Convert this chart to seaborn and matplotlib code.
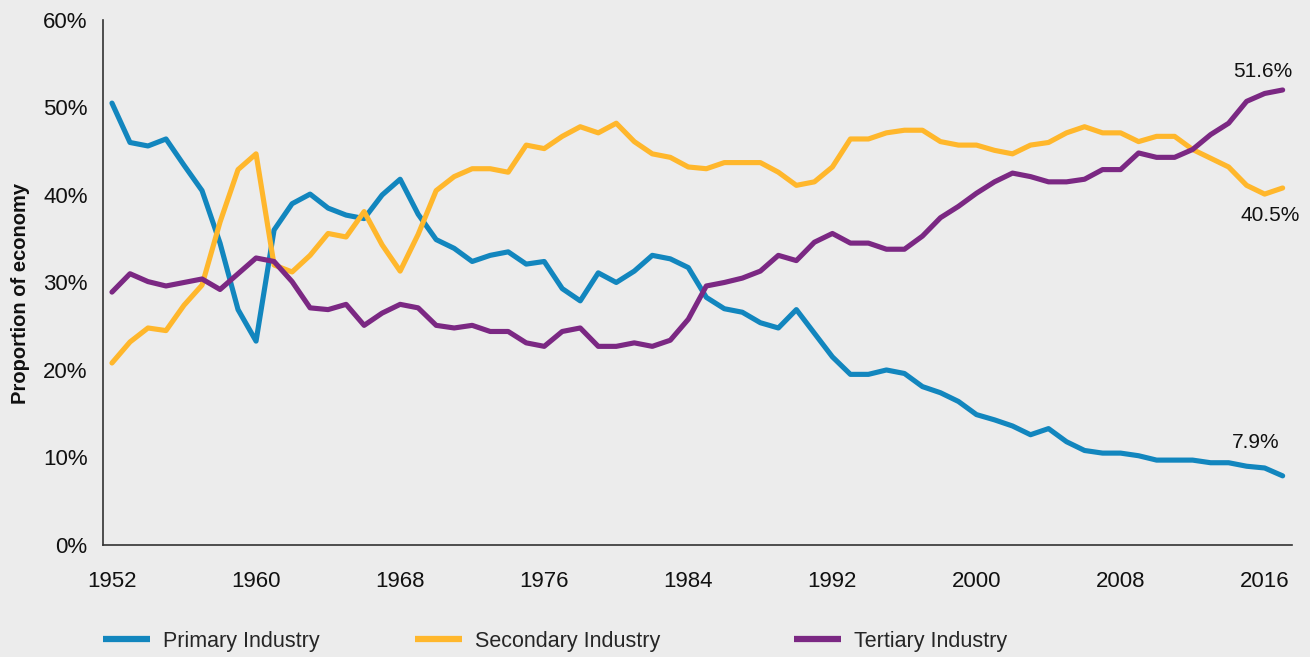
import numpy as np
import pandas as pd
import matplotlib
matplotlib.use("Agg")
import matplotlib.pyplot as plt
import seaborn as sns
from matplotlib.lines import Line2D
from matplotlib.ticker import FuncFormatter

years = list(range(1952, 2018))

primary = [50.5, 46.0, 45.6, 46.4, 43.4, 40.5, 34.5, 26.9, 23.3, 36.0,
           39.0, 40.1, 38.5, 37.7, 37.3, 40.0, 41.8, 37.8, 34.9, 33.9,
           32.4, 33.1, 33.5, 32.1, 32.4, 29.3, 27.9, 31.1, 30.0, 31.3,
           33.1, 32.7, 31.7, 28.3, 27.0, 26.6, 25.4, 24.8, 26.9, 24.2,
           21.5, 19.5, 19.5, 20.0, 19.6, 18.1, 17.4, 16.4, 14.9, 14.3,
           13.6, 12.6, 13.3, 11.8, 10.8, 10.5, 10.5, 10.2, 9.7, 9.7,
           9.7, 9.4, 9.4, 9.0, 8.8, 7.9]

secondary = [20.8, 23.2, 24.8, 24.5, 27.4, 29.7, 36.9, 42.9, 44.7, 32.0,
             31.2, 33.1, 35.6, 35.2, 38.1, 34.3, 31.3, 35.5, 40.5, 42.1,
             43.0, 43.0, 42.6, 45.7, 45.3, 46.7, 47.8, 47.1, 48.2, 46.1,
             44.7, 44.3, 43.2, 43.0, 43.7, 43.7, 43.7, 42.6, 41.1, 41.5,
             43.2, 46.4, 46.4, 47.1, 47.4, 47.4, 46.1, 45.7, 45.7, 45.1,
             44.7, 45.7, 46.0, 47.1, 47.8, 47.1, 47.1, 46.1, 46.7, 46.7,
             45.2, 44.2, 43.2, 41.1, 40.1, 40.8]

tertiary = [28.9, 31.0, 30.1, 29.6, 30.0, 30.4, 29.2, 31.0, 32.8, 32.4,
            30.1, 27.1, 26.9, 27.5, 25.1, 26.5, 27.5, 27.1, 25.1, 24.8,
            25.1, 24.4, 24.4, 23.1, 22.7, 24.4, 24.8, 22.7, 22.7, 23.1,
            22.7, 23.4, 25.8, 29.6, 30.0, 30.5, 31.3, 33.1, 32.5, 34.6,
            35.6, 34.5, 34.5, 33.8, 33.8, 35.3, 37.4, 38.7, 40.2, 41.5,
            42.5, 42.1, 41.5, 41.5, 41.8, 42.9, 42.9, 44.8, 44.3, 44.3,
            45.2, 46.9, 48.2, 50.7, 51.6, 52.0]

series_names = ["Primary Industry", "Secondary Industry", "Tertiary Industry"]
colors = ["#1286BE", "#FFB72C", "#7B2883"]
x_ticks = [1952, 1960, 1968, 1976, 1984, 1992, 2000, 2008, 2016]
y_ticks = [0, 10, 20, 30, 40, 50, 60]
end_labels = ["7.9%", "40.5%", "51.6%"]

df = pd.DataFrame({
    "year": years * 3,
    "share": primary + secondary + tertiary,
    "series": [series_names[0]] * len(years) + [series_names[1]] * len(years) + [series_names[2]] * len(years),
})

sns.set_theme(style="white")
plt.rcParams["font.family"] = ["Liberation Sans", "DejaVu Sans"]
bg = "#ECECEC"

fig = plt.figure(figsize=(13.1, 6.57), dpi=100, facecolor=bg)
ax = fig.add_axes([0.0786, 0.1705, 0.9074, 0.7991])
ax.set_facecolor(bg)

sns.lineplot(data=df, x="year", y="share", hue="series", palette=colors,
             hue_order=series_names, linewidth=3.7, ax=ax, legend=False)

ax.set_xlim(1951.5, 2017.5)
ax.set_ylim(0, 60)
ax.set_xticks(x_ticks)
ax.set_yticks(y_ticks)
ax.yaxis.set_major_formatter(FuncFormatter(lambda v, p: f"{int(v)}%"))
ax.tick_params(axis="both", length=0, labelsize=16, colors="#111111")
ax.tick_params(axis="x", pad=19)
ax.tick_params(axis="y", pad=11)
ax.set_xlabel("")
ax.set_ylabel("Proportion of economy", fontsize=14.5, fontweight="bold", color="#111111", labelpad=10)
ax.yaxis.set_label_coords(-0.061, 0.48)
for s in ["top", "right"]:
    ax.spines[s].set_visible(False)
for s in ["left", "bottom"]:
    ax.spines[s].set_color("#333333")
    ax.spines[s].set_linewidth(1.2)

# end-value annotations
ax.text(2015.5, 11.7, end_labels[0], fontsize=15, ha="center", va="center", color="#111111")
ax.text(2016.3, 37.7, end_labels[1], fontsize=15, ha="center", va="center", color="#111111")
ax.text(2015.9, 54.1, end_labels[2], fontsize=15, ha="center", va="center", color="#111111")

# legend entries
legend_x = [0.0786, 0.3168, 0.606]
for name, col, lx in zip(series_names, colors, legend_x):
    h = [Line2D([0], [0], color=col, linewidth=4.5, solid_capstyle="butt")]
    fig.legend(h, [name], loc="center left", bbox_to_anchor=(lx, 0.024),
               frameon=False, fontsize=15.5, handlelength=2.2, handletextpad=0.6,
               borderaxespad=0, borderpad=0)

fig.savefig("out.png", dpi=100, facecolor=bg)
